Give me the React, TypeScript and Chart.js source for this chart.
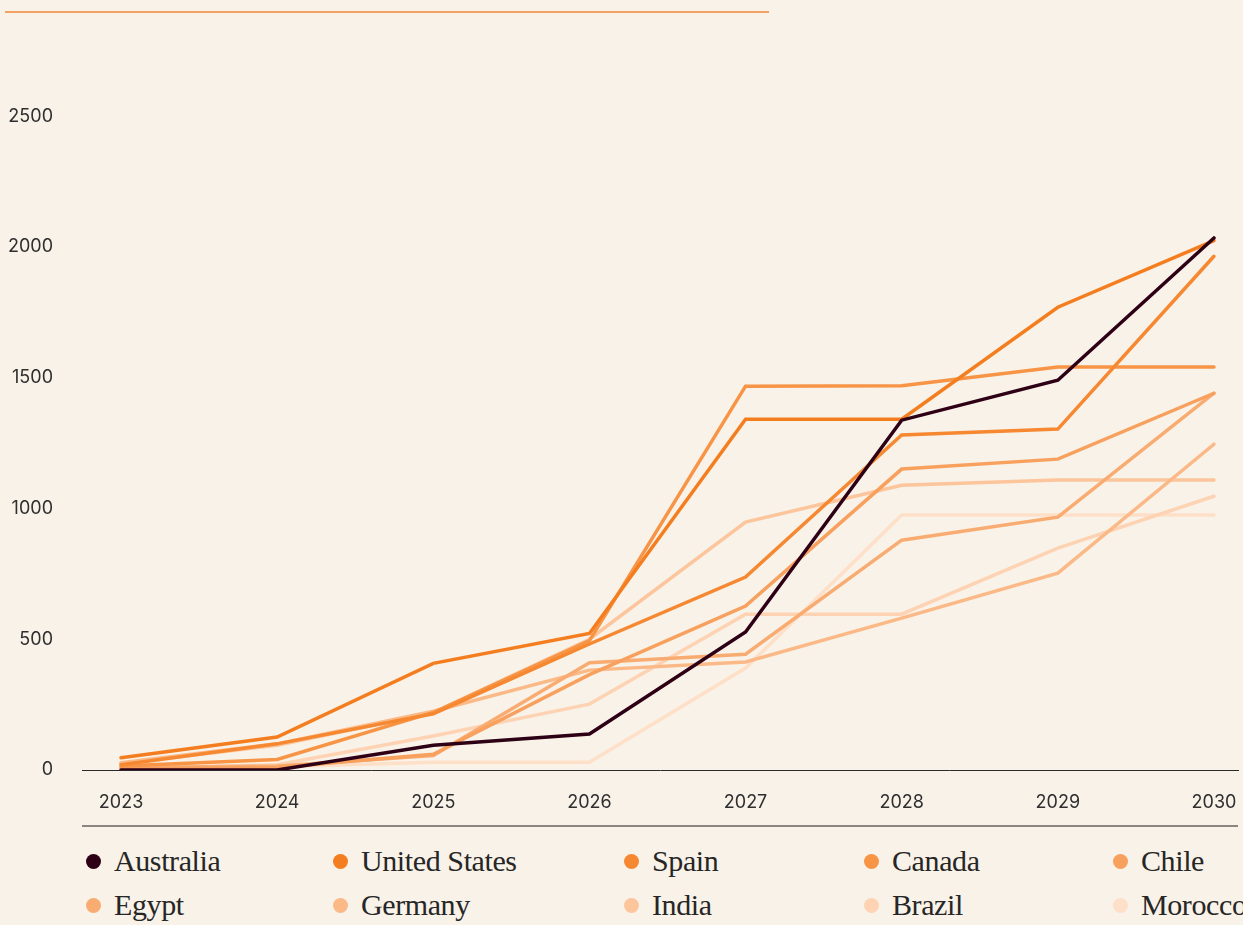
import React, { useEffect, useRef } from "react";
import { Chart, registerables } from "chart.js";

Chart.register(...registerables);

const years = [2023, 2024, 2025, 2026, 2027, 2028, 2029, 2030];
const yTicks = [0, 500, 1000, 1500, 2000, 2500];

const countries = [
  "Australia",
  "United States",
  "Spain",
  "Canada",
  "Chile",
  "Egypt",
  "Germany",
  "India",
  "Brazil",
  "Morocco",
];

const colors = [
  "#2e0016",
  "#f47e1f",
  "#f68832",
  "#f79445",
  "#f8a05d",
  "#f9ac72",
  "#fbb987",
  "#fcc59c",
  "#fdd3b3",
  "#fedfc8",
];

const australia = [0, 0, 95, 138, 528, 1338, 1491, 2035];
const unitedStates = [47, 126, 408, 522, 1342, 1342, 1770, 2025];
const spain = [20, 100, 215, 482, 738, 1281, 1304, 1965];
const canada = [15, 40, 220, 495, 1468, 1470, 1541, 1541];
const chile = [5, 10, 60, 365, 627, 1151, 1189, 1441];
const egypt = [10, 15, 55, 410, 443, 879, 967, 1441];
const germany = [28, 100, 225, 382, 413, 581, 753, 1246];
const india = [25, 95, 220, 500, 948, 1089, 1109, 1109];
const brazil = [5, 20, 130, 252, 596, 596, 849, 1047];
const morocco = [0, 12, 30, 30, 390, 975, 975, 975];

const seriesValues = [
  australia,
  unitedStates,
  spain,
  canada,
  chile,
  egypt,
  germany,
  india,
  brazil,
  morocco,
];

const BG = "#f9f2e8";

export default function App() {
  const canvasRef = useRef<HTMLCanvasElement | null>(null);

  useEffect(() => {
    document.body.style.margin = "0";
    document.body.style.background = BG;
    const canvas = canvasRef.current;
    if (!canvas) return;
    const datasets = countries.map((name, i) => ({
      label: name,
      data: years.map((yr, j) => ({ x: yr, y: seriesValues[i][j] })),
      borderColor: colors[i],
      backgroundColor: colors[i],
      borderWidth: 3.5,
      pointRadius: 0,
      pointHoverRadius: 0,
      tension: 0,
      borderCapStyle: "round" as const,
      fill: false,
    }));
    const chart = new Chart(canvas, {
      type: "line",
      data: { datasets },
      options: {
        animation: false,
        responsive: false,
        maintainAspectRatio: false,
        parsing: false as any,
        layout: { padding: { top: 51, right: 5, left: 0, bottom: 0 } },
        plugins: {
          legend: { display: false },
          tooltip: { enabled: false },
          title: { display: false },
        },
        scales: {
          x: {
            type: "linear",
            min: 2022.75,
            max: 2030.154,
            grid: { display: false, drawTicks: false },
            border: { display: true, color: "#2b2b2b", width: 1 },
            afterBuildTicks: (scale: any) => {
              scale.ticks = years.map((v) => ({ value: v }));
            },
            ticks: {
              autoSkip: false,
              maxRotation: 0,
              padding: 22,
              color: "#2f2f2f",
              font: { family: "Inter", size: 18 },
              callback: (v: any) => String(v),
            },
            afterFit: (scale: any) => {
              scale.height = 50;
              scale.paddingLeft = 0;
              scale.paddingRight = 0;
            },
          },
          y: {
            type: "linear",
            min: 0,
            max: 2750,
            grid: { display: false, drawTicks: false },
            border: { display: false },
            afterBuildTicks: (scale: any) => {
              scale.ticks = yTicks.map((v) => ({ value: v }));
            },
            ticks: {
              padding: 29,
              color: "#2f2f2f",
              font: { family: "Inter", size: 18 },
              callback: (v: any) => String(v),
            },
            afterFit: (scale: any) => {
              scale.width = 82;
              scale.paddingTop = 0;
              scale.paddingBottom = 0;
            },
          },
        },
      },
    });
    return () => chart.destroy();
  }, []);

  return (
    <div
      style={{
        position: "absolute",
        left: 0,
        top: 0,
        width: 1243,
        height: 925,
        background: BG,
        overflow: "hidden",
      }}
    >
      <div
        style={{
          position: "absolute",
          left: 5,
          top: 11,
          width: 764,
          height: 2,
          background: "#f4a264",
        }}
      />
      <canvas
        ref={canvasRef}
        width={1243}
        height={820}
        style={{ position: "absolute", left: 0, top: 0, width: 1243, height: 820 }}
      />
      <div
        style={{
          position: "absolute",
          left: 82,
          top: 825,
          width: 1156,
          height: 2,
          background: "#8a8580",
        }}
      />
      <div
        style={{
          position: "absolute",
          left: 86,
          top: 839,
          display: "grid",
          gridTemplateColumns: "247px 291px 240px 249px 140px",
          gridAutoRows: "44px",
        }}
      >
        {countries.map((name, i) => (
          <div key={name} style={{ display: "flex", alignItems: "center", whiteSpace: "nowrap" }}>
            <span
              style={{
                display: "inline-block",
                width: 15,
                height: 15,
                borderRadius: "50%",
                background: colors[i],
                marginRight: 13,
                flex: "none",
              }}
            />
            <span
              style={{
                fontFamily: "'Liberation Serif', serif",
                fontSize: 30,
                color: "#262626",
                letterSpacing: -0.4,
                lineHeight: "44px",
              }}
            >
              {name}
            </span>
          </div>
        ))}
      </div>
    </div>
  );
}
